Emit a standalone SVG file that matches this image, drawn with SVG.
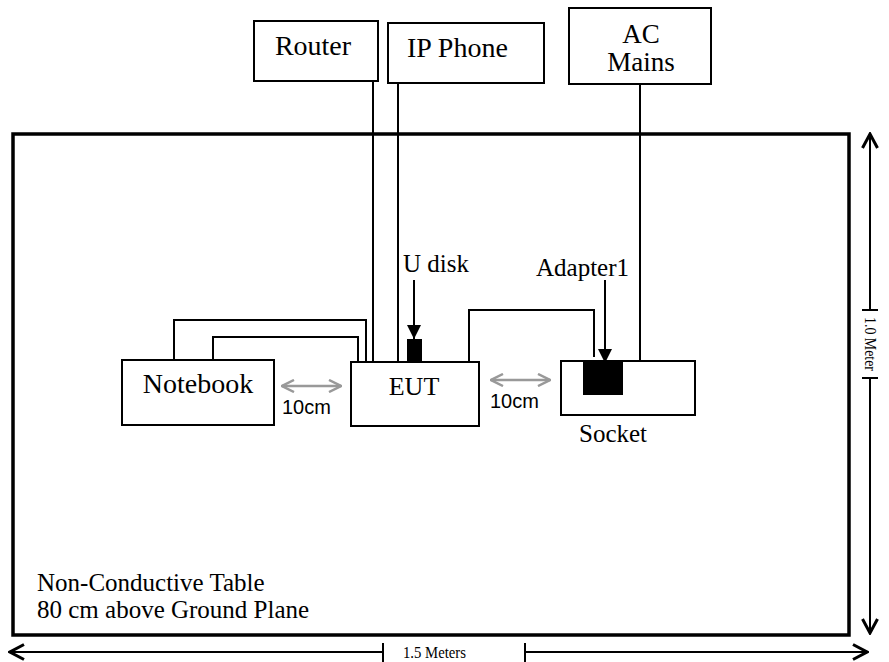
<svg xmlns="http://www.w3.org/2000/svg" width="889" height="662" viewBox="0 0 889 662">
<style>
.box{fill:#fff;stroke:#000;stroke-width:2}
.w{fill:none;stroke:#000;stroke-width:2}
.t{font-family:"Liberation Serif","Times New Roman",serif;fill:#000}
.s{font-family:"Liberation Sans",Arial,sans-serif;fill:#000}
.dim{fill:none;stroke:#000;stroke-width:2}
.gray{fill:none;stroke:#999;stroke-width:2.5}
</style>
<defs>
<marker id="chev" viewBox="0 0 18 18" refX="16" refY="9" markerWidth="18" markerHeight="18" markerUnits="userSpaceOnUse" orient="auto-start-reverse">
<path d="M2,1.5 L16,9 L2,16.5" fill="none" stroke="#000" stroke-width="3"/>
</marker>
<marker id="gchev" viewBox="0 0 14 14" refX="13" refY="7" markerWidth="14" markerHeight="14" markerUnits="userSpaceOnUse" orient="auto-start-reverse">
<path d="M1,1 L13,7 L1,13" fill="none" stroke="#999" stroke-width="2.5"/>
</marker>
<marker id="tri" viewBox="0 0 14 14" refX="14" refY="7" markerWidth="14" markerHeight="14" markerUnits="userSpaceOnUse" orient="auto">
<path d="M0,0 L14,7 L0,14 Z" fill="#000"/>
</marker>
</defs>

<g id="table">
<rect x="13" y="134" width="836" height="501" fill="#fff" stroke="#000" stroke-width="3.5"/>
<text class="t" x="37" y="591" font-size="25">Non-Conductive Table</text>
<text class="t" x="37" y="618" font-size="25">80 cm above Ground Plane</text>
</g>

<g id="connectors">
<path class="w" d="M373,81 V362"/>
<path class="w" d="M398,83 V362"/>
<path class="w" d="M640,84 V361"/>
<path class="w" d="M174,360 V320 H366 V362"/>
<path class="w" d="M213,360 V337 H358 V362"/>
<path class="w" d="M469,362 V310 H594 V357"/>
<path class="w" d="M414,280 V339" marker-end="url(#tri)"/>
<path class="w" d="M605,280 V363" marker-end="url(#tri)"/>
<path class="gray" d="M282,386 H341" marker-start="url(#gchev)" marker-end="url(#gchev)"/>
<path class="gray" d="M491,380 H550" marker-start="url(#gchev)" marker-end="url(#gchev)"/>
</g>

<g id="router">
<rect class="box" x="254" y="21" width="124" height="60"/>
<text class="t" x="313" y="55" font-size="28" text-anchor="middle">Router</text>
</g>
<g id="ip-phone">
<rect class="box" x="388" y="23" width="156" height="60"/>
<text class="t" x="407" y="57" font-size="28">IP Phone</text>
</g>
<g id="ac-mains">
<rect class="box" x="569" y="8" width="142" height="76"/>
<text class="t" x="641" y="43" font-size="27" text-anchor="middle">AC</text>
<text class="t" x="641" y="71" font-size="27" text-anchor="middle">Mains</text>
</g>

<g id="notebook">
<rect class="box" x="122" y="360" width="152" height="65"/>
<text class="t" x="198" y="393" font-size="28" text-anchor="middle">Notebook</text>
</g>
<g id="eut">
<rect class="box" x="351" y="362" width="128" height="64"/>
<text class="t" x="414" y="395" font-size="26" text-anchor="middle">EUT</text>
</g>
<g id="u-disk">
<rect x="407" y="339" width="15" height="24" fill="#000"/>
<text class="t" x="403" y="272" font-size="25">U disk</text>
</g>
<g id="socket">
<rect class="box" x="561" y="361" width="134" height="54"/>
<text class="t" x="579" y="442" font-size="25">Socket</text>
</g>
<g id="adapter1">
<rect x="583" y="362" width="40" height="33" fill="#000"/>
<text class="t" x="536" y="276" font-size="25">Adapter1</text>
</g>

<g id="labels-10cm">
<text class="s" x="282" y="414" font-size="20">10cm</text>
<text class="s" x="490" y="408" font-size="20">10cm</text>
</g>

<g id="dimensions">
<path class="dim" d="M870,310 V134" marker-end="url(#chev)"/>
<path class="dim" d="M870,378 V633" marker-end="url(#chev)"/>
<path class="dim" d="M862,310 H878 M862,378 H878"/>
<text class="t" x="0" y="0" font-size="17" textLength="54" lengthAdjust="spacingAndGlyphs" transform="translate(865,317) rotate(90)">1.0 Meter</text>
<path class="dim" d="M383,652 H10" marker-end="url(#chev)"/>
<path class="dim" d="M525,652 H867" marker-end="url(#chev)"/>
<path class="dim" d="M383,643 V662 M525,643 V662"/>
<text class="t" x="403" y="658" font-size="17" textLength="63" lengthAdjust="spacingAndGlyphs">1.5 Meters</text>
</g>
</svg>
